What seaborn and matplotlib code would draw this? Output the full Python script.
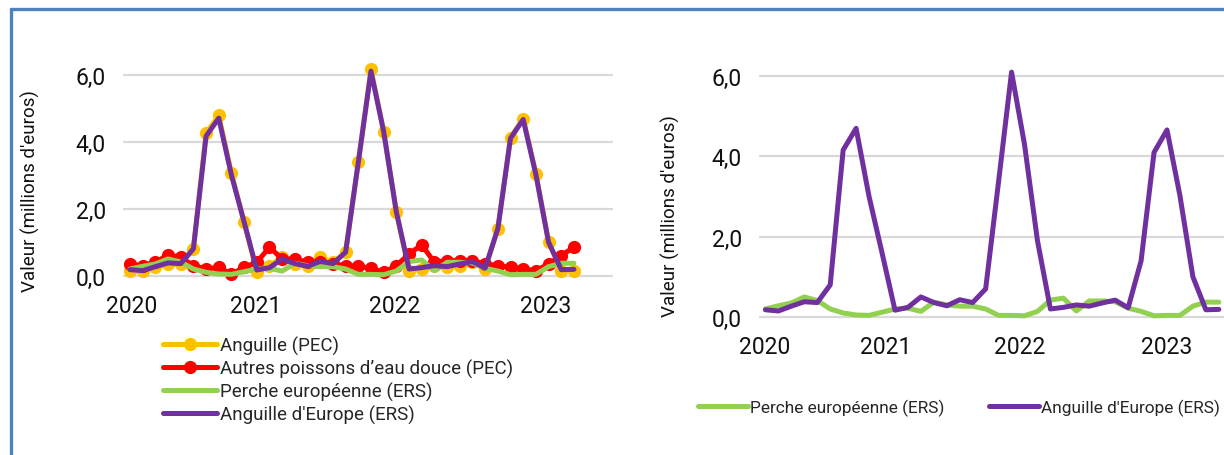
import matplotlib
matplotlib.use("Agg")
import matplotlib.pyplot as plt
import seaborn as sns
import numpy as np
from matplotlib.lines import Line2D

# monthly values, millions d'euros (36 periods)
anguille_pec = [0.15, 0.14, 0.25, 0.35, 0.35, 0.8, 4.25, 4.78, 3.05, 1.6, 0.1, 0.3,
                0.55, 0.35, 0.3, 0.55, 0.4, 0.7, 3.38, 6.15, 4.3, 1.9, 0.15, 0.2,
                0.28, 0.25, 0.3, 0.4, 0.2, 1.4, 4.12, 4.68, 3.04, 1.0, 0.15, 0.15]
autres_pec = [0.35, 0.3, 0.4, 0.62, 0.55, 0.3, 0.2, 0.25, 0.05, 0.25, 0.4, 0.85,
              0.5, 0.5, 0.4, 0.4, 0.35, 0.3, 0.28, 0.22, 0.1, 0.3, 0.65, 0.92,
              0.4, 0.45, 0.45, 0.45, 0.35, 0.3, 0.25, 0.2, 0.15, 0.35, 0.6, 0.85]
perche_ers = [0.2, 0.28, 0.35, 0.5, 0.41, 0.2, 0.1, 0.05, 0.04, 0.12, 0.2, 0.22,
              0.14, 0.37, 0.3, 0.27, 0.27, 0.2, 0.04, 0.04, 0.03, 0.14, 0.42, 0.47,
              0.15, 0.4, 0.4, 0.38, 0.22, 0.14, 0.03, 0.04, 0.04, 0.27, 0.37, 0.37]
anguille_ers = [0.18, 0.15, 0.27, 0.38, 0.36, 0.8, 4.16, 4.7, 3.0, 1.6, 0.17, 0.24,
                0.5, 0.36, 0.28, 0.43, 0.36, 0.7, 3.38, 6.1, 4.3, 1.9, 0.2, 0.24,
                0.3, 0.27, 0.35, 0.42, 0.23, 1.4, 4.1, 4.66, 3.02, 1.0, 0.18, 0.19]
year_labels = ["2020", "2021", "2022", "2023"]
y_ticks = [0, 2, 4, 6]

periods = np.arange(len(anguille_ers))

sns.set_style("white")
plt.rcParams["font.family"] = ["Roboto", "DejaVu Sans"]

C_YEL = "#FFC000"
C_RED = "#FF0000"
C_GRN = "#92D050"
C_PUR = "#7030A0"
GRID = "#D9D9D9"

fig = plt.figure(figsize=(12.24, 4.56), dpi=100)


def px_axes(x0, x1, y_top, y_bot):
    W, H = 1224, 456
    return fig.add_axes([x0 / W, (H - y_bot) / H, (x1 - x0) / W, (y_bot - y_top) / H])


def style_axes(ax, xlim, xticks, ylabel_xy):
    ax.set_xlim(*xlim)
    ax.set_ylim(0, 7)
    ax.set_yticks(y_ticks)
    ax.set_yticklabels([f"{v:.1f}".replace(".", ",") for v in y_ticks])
    ax.set_xticks(xticks)
    ax.set_xticklabels(year_labels)
    for s in ax.spines.values():
        s.set_visible(False)
    ax.grid(False)
    for v in y_ticks:
        ax.axhline(v, color=GRID, lw=1.6, zorder=0)
    ax.tick_params(axis="both", length=0, labelsize=16.5, colors="#111111")
    ax.tick_params(axis="y", pad=13)
    ax.tick_params(axis="x", pad=13)
    ax.set_xlabel("")
    ax.set_ylabel("Valeur (millions d'euros)", fontsize=13.5, color="#111111")
    ax.yaxis.set_label_coords(*ylabel_xy)
    for ln in ax.lines:
        ln.set_clip_on(False)


# ---- left chart: PEC + ERS
ax1 = px_axes(124, 612, 42, 276.7)
sns.lineplot(x=periods, y=anguille_pec, ax=ax1, color=C_YEL, lw=3.6, marker="o",
             markersize=9.5, markeredgewidth=0, label="Anguille (PEC)")
sns.lineplot(x=periods, y=autres_pec, ax=ax1, color=C_RED, lw=3.6, marker="o",
             markersize=9.5, markeredgewidth=0, label="Autres poissons d\u2019eau douce (PEC)")
sns.lineplot(x=periods, y=perche_ers, ax=ax1, color=C_GRN, lw=3.6,
             label="Perche européenne (ERS)")
sns.lineplot(x=periods, y=anguille_ers, ax=ax1, color=C_PUR, lw=3.6,
             label="Anguille d'Europe (ERS)")
h1, l1 = ax1.get_legend_handles_labels()
ax1.get_legend().remove()
style_axes(ax1, (-0.47, 38.0), [0.12, 9.93, 20.9, 32.8], (-0.172, 0.365))

fig.legend(h1, l1, loc="upper left", bbox_to_anchor=(163 / 1224, (456 - 337) / 456),
           frameon=False, fontsize=13.5, handlelength=2.9, handletextpad=0.15,
           labelspacing=0.2, borderpad=0, borderaxespad=0)

# ---- right chart: ERS only
ax2 = px_axes(760, 1224, 37, 318)
sns.lineplot(x=periods, y=perche_ers, ax=ax2, color=C_GRN, lw=3.6,
             label="Perche européenne (ERS)")
sns.lineplot(x=periods, y=anguille_ers, ax=ax2, color=C_PUR, lw=3.6,
             label="Anguille d'Europe (ERS)")
h2, l2 = ax2.get_legend_handles_labels()
ax2.get_legend().remove()
style_axes(ax2, (-0.42, 35.4), [-0.08, 9.27, 19.6, 31.0], (-0.172, 0.363))

fig.legend(h2, l2, loc="upper left", bbox_to_anchor=(698 / 1224, (456 - 400) / 456),
           frameon=False, fontsize=12.4, ncol=2, handlelength=2.9, handletextpad=0.12,
           columnspacing=2.6, borderpad=0, borderaxespad=0)

# frame border (top and left edges)
fig.add_artist(Line2D([11 / 1224, 11 / 1224], [0, 1 - 10 / 456], color="#4F81BD",
                      lw=2.4, transform=fig.transFigure))
fig.add_artist(Line2D([11 / 1224, 1], [1 - 10 / 456, 1 - 10 / 456], color="#4F81BD",
                      lw=2.4, transform=fig.transFigure))

fig.savefig("out.png", dpi=100)
